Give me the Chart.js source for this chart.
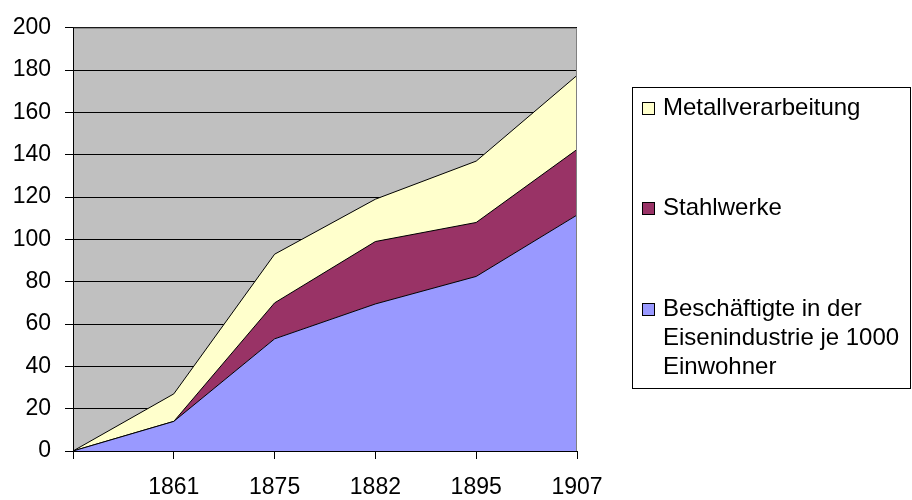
<!DOCTYPE html>
<html>
<head>
<meta charset="utf-8">
<script src="https://cdn.jsdelivr.net/npm/chart.js@4/dist/chart.umd.min.js"></script>
<style>
  html, body { margin: 0; padding: 0; background: #fff; }
  #wrap { width: 912px; height: 500px; }
</style>
</head>
<body>
<div id="wrap"><canvas id="c" width="912" height="500"></canvas></div>
<script>
// Jahre (erste Kategorie ohne Beschriftung = Ausgangspunkt 0)
const years = ['', '1861', '1875', '1882', '1895', '1907'];

// Reihen, von unten nach oben gestapelt
const seriesNames = [
  'Beschäftigte in der Eisenindustrie je 1000 Einwohner',
  'Stahlwerke',
  'Metallverarbeitung'
];
const eisenindustrie     = [0, 14, 53, 69.5, 82.5, 111.5];
const stahlwerke         = [0, 0, 17, 29.5, 25.5, 31];
const metallverarbeitung = [0, 13, 23, 20, 29, 35];

const yMin = 0, yMax = 200, yStep = 20;

const seriesColors = ['#9999FF', '#993366', '#FFFFCC'];
const FONT = "'Liberation Sans', Arial, sans-serif";

// grauer Hintergrund der Zeichenfläche
const plotBackground = {
  id: 'plotBackground',
  beforeDraw(chart) {
    const { ctx, chartArea: a } = chart;
    ctx.save();
    ctx.fillStyle = '#C0C0C0';
    ctx.fillRect(a.left, a.top, a.right - a.left, a.bottom - a.top);
    ctx.restore();
  }
};

// Achsenlinien und Rahmen über den Flächen
const plotFrame = {
  id: 'plotFrame',
  afterDatasetsDraw(chart) {
    const { ctx, chartArea: a } = chart;
    ctx.save();
    ctx.lineWidth = 1;
    ctx.strokeStyle = '#808080';
    ctx.beginPath();
    ctx.moveTo(a.left, a.top + 0.5);
    ctx.lineTo(a.right - 0.5, a.top + 0.5);
    ctx.lineTo(a.right - 0.5, a.bottom);
    ctx.stroke();
    ctx.strokeStyle = '#000';
    ctx.beginPath();
    ctx.moveTo(a.left + 0.5, a.top);
    ctx.lineTo(a.left + 0.5, a.bottom + 0.5);
    ctx.lineTo(a.right, a.bottom + 0.5);
    ctx.stroke();
    ctx.restore();
  }
};

// Legende rechts mit Rahmen, Einträge in umgekehrter Reihenfolge
const boxLegend = {
  id: 'boxLegend',
  afterDraw(chart) {
    const { ctx } = chart;
    const box = { left: 632, top: 87, right: 910, bottom: 388 };
    const fontSize = 24, lineH = 29, swatch = 13;
    const textX = 663, swatchX = 642, maxW = box.right - textX - 2;
    ctx.save();
    ctx.lineWidth = 1;
    ctx.strokeStyle = '#000';
    ctx.strokeRect(box.left + 0.5, box.top + 0.5, box.right - box.left, box.bottom - box.top);
    ctx.font = fontSize + 'px ' + FONT;
    ctx.textBaseline = 'middle';
    ctx.textAlign = 'left';
    const order = chart.data.datasets.map((d, i) => i).reverse();
    order.forEach((dsIndex, row) => {
      const ds = chart.data.datasets[dsIndex];
      const cy = box.top + 21 + row * 100.5;
      // Zeilenumbruch nach Breite
      const words = ds.label.split(' ');
      const lines = [];
      let cur = '';
      words.forEach(w => {
        const test = cur ? cur + ' ' + w : w;
        if (cur && ctx.measureText(test).width > maxW) { lines.push(cur); cur = w; }
        else cur = test;
      });
      if (cur) lines.push(cur);
      ctx.fillStyle = ds.backgroundColor;
      ctx.fillRect(swatchX, Math.round(cy - swatch / 2), swatch, swatch);
      ctx.strokeStyle = '#000';
      ctx.strokeRect(swatchX + 0.5, Math.round(cy - swatch / 2) + 0.5, swatch - 1, swatch - 1);
      ctx.fillStyle = '#000';
      lines.forEach((ln, k) => ctx.fillText(ln, textX, cy + k * lineH));
    });
    ctx.restore();
  }
};

const seriesData = [eisenindustrie, stahlwerke, metallverarbeitung];

new Chart(document.getElementById('c'), {
  type: 'line',
  data: {
    labels: years,
    datasets: seriesData.map((vals, i) => ({
      label: seriesNames[i],
      data: vals,
      backgroundColor: seriesColors[i],
      borderColor: '#000',
      borderWidth: 1,
      fill: i === 0 ? 'origin' : '-1',
      tension: 0,
      pointRadius: 0,
      pointHoverRadius: 0
    }))
  },
  options: {
    responsive: false,
    animation: false,
    devicePixelRatio: 1,
    layout: { padding: { left: 0, top: 25, right: 335, bottom: 0 } },
    plugins: {
      legend: { display: false },
      tooltip: { enabled: false },
      filler: { propagate: false }
    },
    scales: {
      x: {
        type: 'category',
        offset: false,
        grid: { drawOnChartArea: false, drawTicks: true, tickLength: 8, color: '#000' },
        border: { display: true, color: '#000' },
        ticks: {
          autoSkip: false, maxRotation: 0, padding: 15,
          color: '#000', font: { family: FONT, size: 23 }
        },
        afterFit(s) { s.height = 49; }
      },
      y: {
        stacked: true,
        min: yMin, max: yMax,
        grid: { color: '#000', drawTicks: true, tickLength: 8 },
        border: { display: true, color: '#000' },
        ticks: {
          stepSize: yStep, padding: 14,
          color: '#000', font: { family: FONT, size: 23 }
        },
        afterFit(s) { s.width = 73; }
      }
    }
  },
  plugins: [plotBackground, plotFrame, boxLegend]
});
</script>
</body>
</html>
